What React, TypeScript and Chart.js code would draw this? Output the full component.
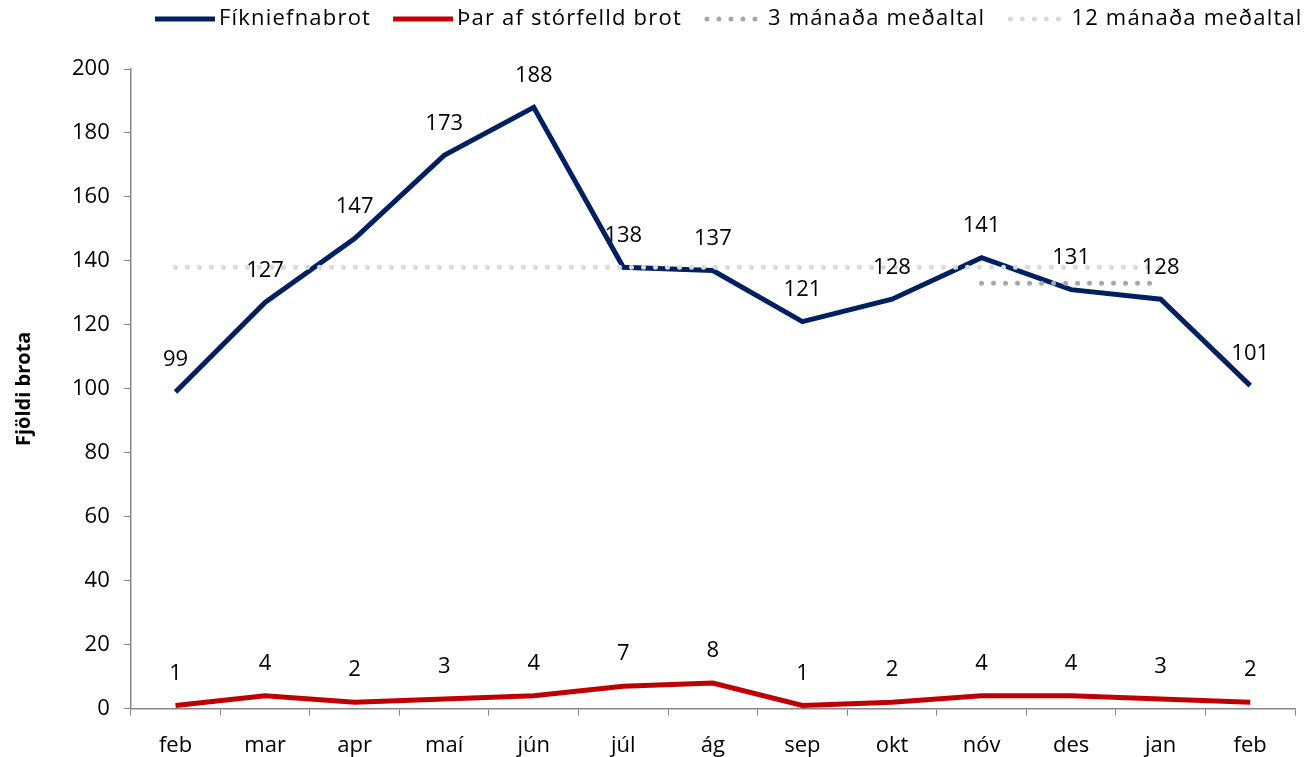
import React, { useEffect, useRef } from "react";
import { Chart, registerables } from "chart.js";

Chart.register(...registerables);

const months = ["feb", "mar", "apr", "maí", "jún", "júl", "ág", "sep", "okt", "nóv", "des", "jan", "feb"];
const fikniefnabrot = [99, 127, 147, 173, 188, 138, 137, 121, 128, 141, 131, 128, 101];
const storfelld = [1, 4, 2, 3, 4, 7, 8, 1, 2, 4, 4, 3, 2];
const avg3 = [null, null, null, null, null, null, null, null, null, 133, 133, 133, null];
const avg12 = [138, 138, 138, 138, 138, 138, 138, 138, 138, 138, 138, 138, null];
const yTicks = { min: 0, max: 200, step: 20 };

const FONT = "'Open Sans'";

const labelPlugin = {
  id: "pointLabels",
  afterDatasetsDraw(chart: any) {
    const ctx = chart.ctx;
    ctx.save();
    ctx.font = `22px ${FONT}`;
    ctx.fillStyle = "#000";
    ctx.textAlign = "center";
    ctx.textBaseline = "middle";
    [0, 1].forEach((di) => {
      const meta = chart.getDatasetMeta(di);
      const data = chart.data.datasets[di].data as number[];
      meta.data.forEach((pt: any, i: number) => {
        ctx.fillText(String(data[i]), pt.x, pt.y - 32);
      });
    });
    ctx.restore();
  },
};

const legendPlugin = {
  id: "customLegend",
  afterDraw(chart: any) {
    const ctx = chart.ctx;
    ctx.save();
    ctx.font = `22px ${FONT}`;
    (ctx as any).letterSpacing = "1.2px";
    ctx.textBaseline = "middle";
    ctx.textAlign = "left";
    let x = 155;
    const y = 19;
    chart.data.datasets.forEach((ds: any) => {
      ctx.save();
      ctx.strokeStyle = ds.borderColor;
      ctx.lineWidth = ds.borderWidth;
      ctx.lineCap = ds.borderCapStyle || "butt";
      ctx.setLineDash(ds.borderDash || []);
      ctx.beginPath();
      const len = 60;
      if (ds.borderDash) {
        ctx.moveTo(x + 3, y);
        ctx.lineTo(x + len - 3, y);
      } else {
        ctx.moveTo(x, y);
        ctx.lineTo(x + len, y);
      }
      ctx.stroke();
      ctx.restore();
      x += len + 4;
      ctx.fillStyle = "#000";
      ctx.fillText(ds.label, x, y);
      x += ctx.measureText(ds.label).width + 22;
    });
    ctx.restore();
  },
};

export default function App() {
  const ref = useRef<HTMLCanvasElement>(null);
  useEffect(() => {
    document.body.style.margin = "0";
    const chart = new Chart(ref.current!, {
      type: "line",
      data: {
        labels: months,
        datasets: [
          {
            label: "Fíkniefnabrot",
            data: fikniefnabrot,
            borderColor: "#002060",
            backgroundColor: "#002060",
            borderWidth: 5,
            pointRadius: 0,
            tension: 0,
            order: 2,
          },
          {
            label: "Þar af stórfelld brot",
            data: storfelld,
            borderColor: "#c00000",
            backgroundColor: "#c00000",
            borderWidth: 5,
            pointRadius: 0,
            order: 2,
          },
          {
            label: "3 mánaða meðaltal",
            data: avg3,
            borderColor: "#a6a6a6",
            backgroundColor: "#a6a6a6",
            borderWidth: 5,
            borderDash: [0, 12],
            borderCapStyle: "round",
            pointRadius: 0,
            order: 1,
          },
          {
            label: "12 mánaða meðaltal",
            data: avg12,
            borderColor: "#d9d9d9",
            backgroundColor: "#d9d9d9",
            borderWidth: 5,
            borderDash: [0, 12],
            borderCapStyle: "round",
            pointRadius: 0,
            order: 0,
          },
        ] as any,
      },
      options: {
        animation: false,
        responsive: false,
        layout: { padding: { left: 12, right: 15, top: 69, bottom: -19 } },
        plugins: {
          legend: { display: false },
          tooltip: { enabled: false },
        },
        scales: {
          x: {
            offset: true,
            grid: {
              display: true,
              drawOnChartArea: false,
              drawTicks: true,
              tickLength: 7,
              color: "#868686",
              offset: true,
            },
            border: { color: "#868686", width: 1.5 },
            ticks: { color: "#000", font: { family: FONT, size: 22 }, padding: 17, maxRotation: 0, autoSkip: false },
          },
          y: {
            min: yTicks.min,
            max: yTicks.max,
            grid: {
              display: true,
              drawOnChartArea: false,
              drawTicks: true,
              tickLength: 7,
              color: "#868686",
            },
            border: { color: "#868686", width: 1.5 },
            ticks: { stepSize: yTicks.step, color: "#000", font: { family: FONT, size: 22 }, padding: 14 },
            title: {
              display: true,
              text: "Fjöldi brota",
              color: "#000",
              font: { family: FONT, size: 20, weight: "bold" },
              padding: { top: 0, bottom: 22 },
            },
          },
        },
      },
      plugins: [labelPlugin, legendPlugin],
    });
    return () => chart.destroy();
  }, []);
  return <canvas ref={ref} width={1310} height={757} style={{ display: "block" }} />;
}
